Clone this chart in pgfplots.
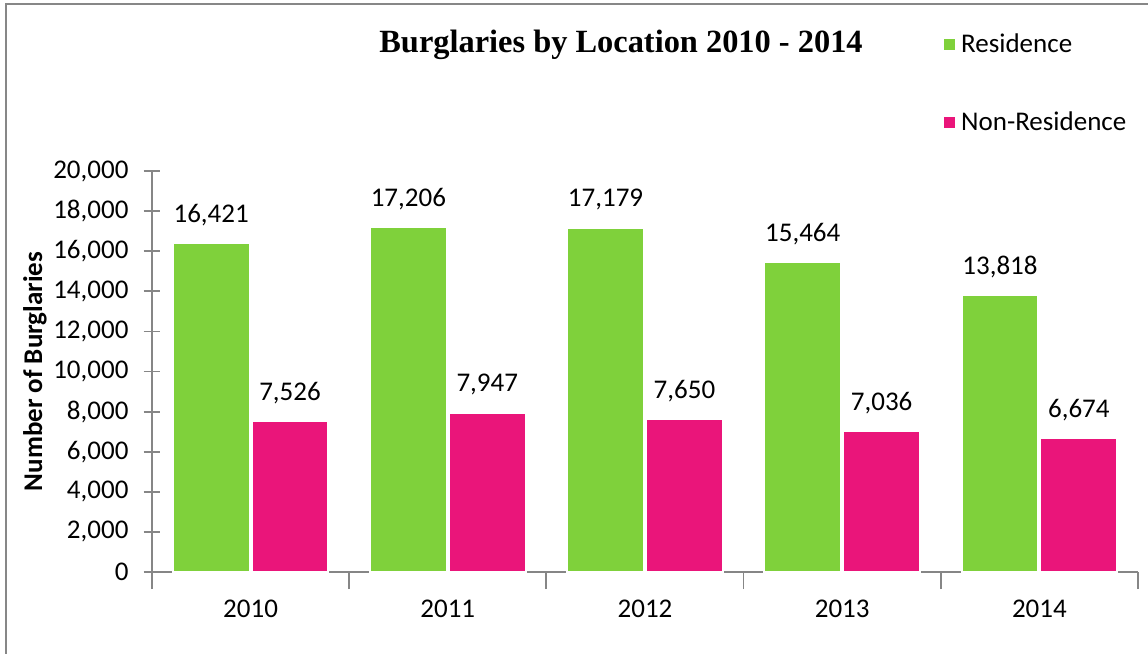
\documentclass[border=0pt]{standalone}
\usepackage{pgfplots}
\pgfplotsset{compat=1.18}
\usepackage{fontspec}
\setmainfont{Carlito}
\newfontfamily\titlefont{Liberation Serif}
\definecolor{resg}{RGB}{127,209,59}
\definecolor{nonp}{RGB}{234,21,122}
\definecolor{axg}{RGB}{134,134,134}
\definecolor{frameg}{RGB}{135,135,135}
\begin{document}
\begin{tikzpicture}[x=0.5pt,y=0.5pt]
\useasboundingbox (0,0) rectangle (1148,654);
\draw[frameg, line width=1.2pt] (6,-30) -- (6,650) -- (1200,650);
\begin{axis}[
  at={(76pt,41pt)}, anchor=south west,
  scale only axis, width=493pt, height=200.5pt,
  xmin=-0.5, xmax=4.5, ymin=0, ymax=20000,
  axis x line*=bottom, axis y line*=left,
  axis line style={axg, line width=0.9pt, -},
  ytick={0,2000,...,20000},
  scaled y ticks=false,
  xtick={0,...,4}, xticklabels={2010,2011,2012,2013,2014},
  major x tick style={draw=none},
  minor xtick={-0.5,0.5,...,4.5},
  tick align=center,
  tick style={axg, line width=0.9pt},
  major tick length=8.5pt, minor tick length=8.5pt,
  /pgf/number format/.cd, 1000 sep={,}, assume math mode=true,
  /pgfplots/.cd,
  tick label style={font=\fontsize{13.5}{16}\selectfont, black},
  yticklabel style={xshift=-4pt},
  xticklabel style={yshift=-2pt},
  ylabel={\bfseries Number of Burglaries},
  ylabel style={at={(axis description cs:-0.1187,0.5)}, anchor=center, font=\fontsize{13.5}{16}\selectfont},
  title={Burglaries by Location 2010 - 2014},
  title style={at={(axis description cs:0.4757,1)}, anchor=center, yshift=57pt, font=\titlefont\bfseries\fontsize{16.2}{19}\selectfont},
  ybar, bar width=0.39,
  nodes near coords,
  every node near coord/.append style={anchor=center, yshift=14pt, font=\fontsize{13.5}{16}\selectfont, black},
  legend style={draw=none, at={(axis description cs:0.801,1.353)}, anchor=north west, font=\fontsize{13.5}{16}\selectfont, row sep=24pt, inner sep=0pt},
  legend cell align=left,
  legend image code/.code={\fill[#1] (0pt,-3.25pt) rectangle (6.5pt,3.25pt);},
]
\addplot[fill=resg, draw=white, line width=1pt, bar shift=-0.2] coordinates {(0,16421) (1,17206) (2,17179) (3,15464) (4,13818)};
\addplot[fill=nonp, draw=white, line width=1pt, bar shift=0.2] coordinates {(0,7526) (1,7947) (2,7650) (3,7036) (4,6674)};
\legend{Residence,Non-Residence}
\end{axis}
\end{tikzpicture}
\end{document}
